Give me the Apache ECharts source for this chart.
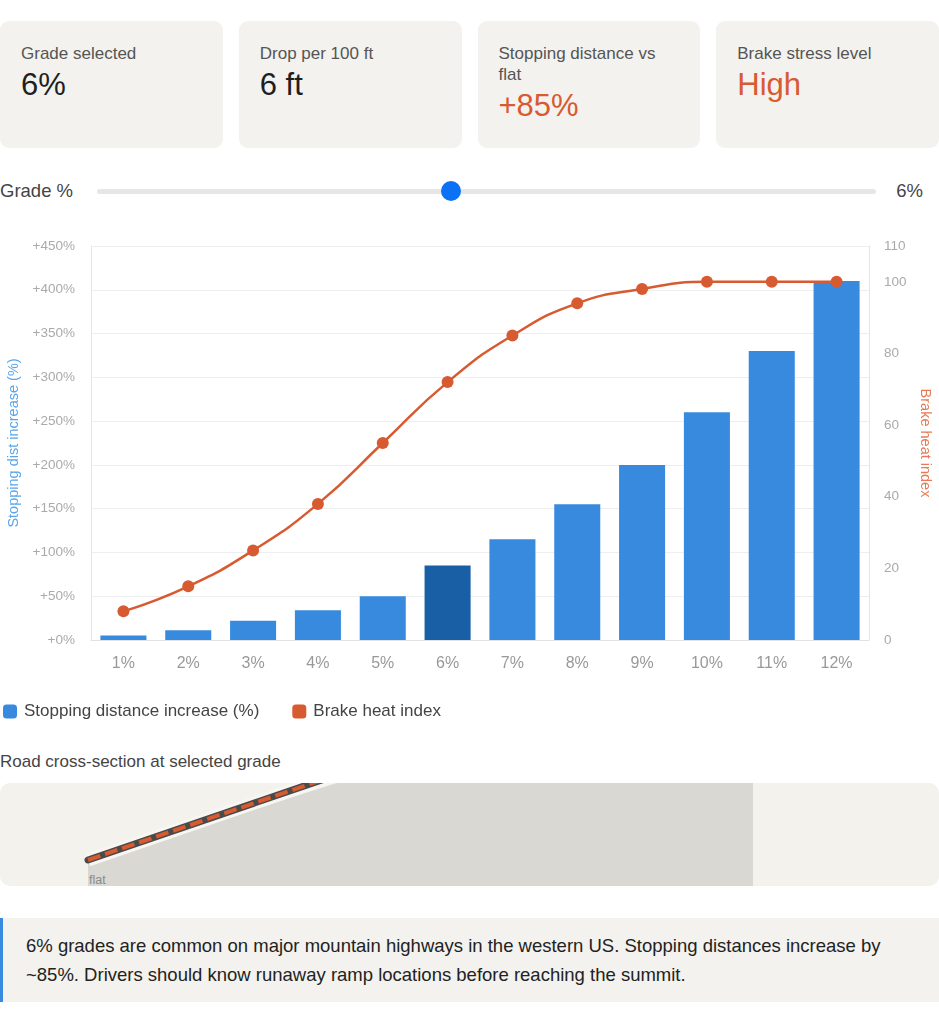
<!DOCTYPE html>
<html>
<head>
<meta charset="utf-8">
<script src="https://cdn.jsdelivr.net/npm/echarts@6/dist/echarts.min.js"></script>
<style>
  body { margin: 0; padding: 0; background: #fff; font-family: "Liberation Sans", Arial, sans-serif; color: #222; }
  #page { width: 939px; position: relative; }
  .cards { display: grid; grid-template-columns: repeat(4, 1fr); gap: 16px; margin-top: 21px; }
  .card { background: #f3f2ee; border-radius: 9px; height: 127px; box-sizing: border-box; padding: 22px 21px 0 21px; }
  .card .lbl { font-size: 17px; color: #555; line-height: 21px; }
  .card .val { font-size: 31px; color: #1f1f1f; line-height: 36px; margin-top: 3px; }
  .card .val.hot { color: #d85a30; }
  .slider { position: relative; height: 30px; margin-top: 27px; }
  .slider .name { position: absolute; left: 0; top: 5px; font-size: 18.5px; line-height: 21px; color: #444; }
  .slider .track { position: absolute; left: 97px; width: 779px; top: 14px; height: 5px; border-radius: 3px; background: #e6e6e6; }
  .slider .thumb { position: absolute; top: 6px; width: 20px; height: 20px; border-radius: 50%; background: #0b72f5; margin-left: -10px; }
  .slider .out { position: absolute; right: 16px; top: 5px; font-size: 18.5px; line-height: 21px; color: #444; }
  #main { width: 939px; height: 500px; margin-top: 24px; }
  .sect { font-size: 17px; color: #444; margin-top: 23px; line-height: 20px; }
  .road { margin-top: 11px; height: 103px; background: #f3f2ec; border-radius: 10px; overflow: hidden; position: relative; }
  .road svg { position: absolute; left: 0; top: 0; }
  .note { margin-top: 32px; background: #f3f2ee; border-left: 3px solid #378add; padding: 13px 20px 13px 23px; font-size: 18.5px; line-height: 29px; color: #222; }
</style>
</head>
<body>
<div id="page">
  <div class="cards">
    <div class="card"><div class="lbl">Grade selected</div><div class="val" id="v1"></div></div>
    <div class="card"><div class="lbl">Drop per 100 ft</div><div class="val" id="v2"></div></div>
    <div class="card"><div class="lbl">Stopping distance vs flat</div><div class="val hot" id="v3"></div></div>
    <div class="card"><div class="lbl">Brake stress level</div><div class="val hot" id="v4"></div></div>
  </div>
  <div class="slider">
    <div class="name">Grade %</div>
    <div class="track"></div>
    <div class="thumb" id="thumb"></div>
    <div class="out" id="out"></div>
  </div>
  <div id="main"></div>
  <div class="sect">Road cross-section at selected grade</div>
  <div class="road" id="road"></div>
  <div class="note" id="note"></div>
</div>
<script>
// data
var grades = ['1%', '2%', '3%', '4%', '5%', '6%', '7%', '8%', '9%', '10%', '11%', '12%'];
var stopIncrease = [5, 11, 22, 34, 50, 85, 115, 155, 200, 260, 330, 410];
var heatIndex = [8, 15, 25, 38, 55, 72, 85, 94, 98, 100, 100, 100];
var leftTicks = { min: 0, max: 450, interval: 50 };
var rightTicks = { min: 0, max: 110, interval: 20 };
var selectedGrade = 6;

var BLUE = '#378add';
var BLUE_DARK = '#185fa5';
var ORANGE = '#d85a30';

// CARDS / SLIDER ----------------------------------------------------------
var idx = selectedGrade - 1;
document.getElementById('v1').textContent = selectedGrade + '%';
document.getElementById('v2').textContent = selectedGrade + ' ft';
document.getElementById('v3').textContent = '+' + stopIncrease[idx] + '%';
document.getElementById('v4').textContent = 'High';
document.getElementById('out').textContent = selectedGrade + '%';
document.getElementById('thumb').style.left = (97 + (selectedGrade - 1) / 11 * 779) + 'px';
document.getElementById('note').textContent = selectedGrade + '% grades are common on major mountain highways in the western US. Stopping distances increase by ~' + stopIncrease[idx] + '%. Drivers should know runaway ramp locations before reaching the summit.';

// ROAD ---------------------------------------------------------------------
(function () {
    var x0 = 88, y0 = 77;
    var slope = Math.tan(selectedGrade * 3.15 * Math.PI / 180);
    var x1 = x0 + 400, y1 = y0 - 400 * slope;
    var topX = x0 + (y0 + 2) / slope + 18;
    var svg = '<svg width="939" height="103" xmlns="http://www.w3.org/2000/svg">' +
        '<polygon points="' + x0 + ',' + (y0 + 3) + ' ' + topX + ',0 753,0 753,103 ' + x0 + ',103" fill="#d9d8d3"/>' +
        '<line x1="' + x0 + '" y1="' + y0 + '" x2="' + x1 + '" y2="' + y1 + '" stroke="#f7f6f2" stroke-width="13"/>' +
        '<line x1="' + x0 + '" y1="' + y0 + '" x2="' + x1 + '" y2="' + y1 + '" stroke="#4a4a4a" stroke-width="7" stroke-linecap="round"/>' +
        '<line x1="' + x0 + '" y1="' + y0 + '" x2="' + x1 + '" y2="' + y1 + '" stroke="' + ORANGE + '" stroke-width="4" stroke-dasharray="13 5"/>' +
        '<text x="' + (x0 + 1) + '" y="101" font-size="12.5" fill="#8a8a8a" font-family="Liberation Sans, Arial, sans-serif">flat</text>' +
        '</svg>';
    document.getElementById('road').innerHTML = svg;
})();

// CHART --------------------------------------------------------------------
var chart = echarts.init(document.getElementById('main'));

var barData = stopIncrease.map(function (v, i) {
    return { value: v, itemStyle: { color: i === idx ? BLUE_DARK : BLUE } };
});

var option = {
    textStyle: { fontFamily: 'Liberation Sans, Arial, sans-serif' },
    animation: false,
    grid: { left: 91, right: 70, top: 17, bottom: 89, outerBoundsMode: 'none' },
    legend: {
        left: -2,
        top: 469,
        itemWidth: 14,
        itemHeight: 14,
        itemGap: 33,
        icon: 'roundRect',
        textStyle: { fontSize: 17, color: '#444', padding: [0, 0, 0, 2] },
        data: ['Stopping distance increase (%)', 'Brake heat index']
    },
    xAxis: {
        type: 'category',
        data: grades,
        axisLine: { lineStyle: { color: '#e2e2e2' } },
        axisTick: { show: false },
        axisLabel: { color: '#999', fontSize: 16, margin: 16 }
    },
    yAxis: [
        {
            type: 'value',
            min: leftTicks.min,
            max: leftTicks.max,
            interval: leftTicks.interval,
            name: 'Stopping dist increase (%)',
            nameLocation: 'middle',
            nameGap: 69,
            nameTextStyle: { color: '#5aa5ea', fontSize: 14.5 },
            axisLine: { show: true, lineStyle: { color: '#e6e6e6' } },
            axisTick: { show: false },
            axisLabel: { color: '#aaa', fontSize: 13.5, margin: 16, formatter: function (v) { return '+' + v + '%'; } },
            splitLine: { lineStyle: { color: '#eeeeee' } }
        },
        {
            type: 'value',
            min: rightTicks.min,
            max: rightTicks.max,
            interval: rightTicks.interval,
            name: 'Brake heat index',
            nameLocation: 'middle',
            nameGap: 48,
            nameRotate: -90,
            nameTextStyle: { color: '#e87a55', fontSize: 14.5 },
            axisLine: { show: true, lineStyle: { color: '#e6e6e6' } },
            axisTick: { show: false },
            axisLabel: { color: '#aaa', fontSize: 13.5, margin: 15, showMaxLabel: true },
            splitLine: { show: false }
        }
    ],
    series: [
        {
            name: 'Stopping distance increase (%)',
            type: 'bar',
            barWidth: '71%',
            itemStyle: { color: BLUE },
            data: barData
        },
        {
            name: 'Brake heat index',
            type: 'line',
            yAxisIndex: 1,
            smooth: true,
            symbol: 'circle',
            symbolSize: 12,
            itemStyle: { color: ORANGE },
            lineStyle: { color: ORANGE, width: 2.5 },
            data: heatIndex
        }
    ]
};

chart.setOption(option);
</script>
</body>
</html>
